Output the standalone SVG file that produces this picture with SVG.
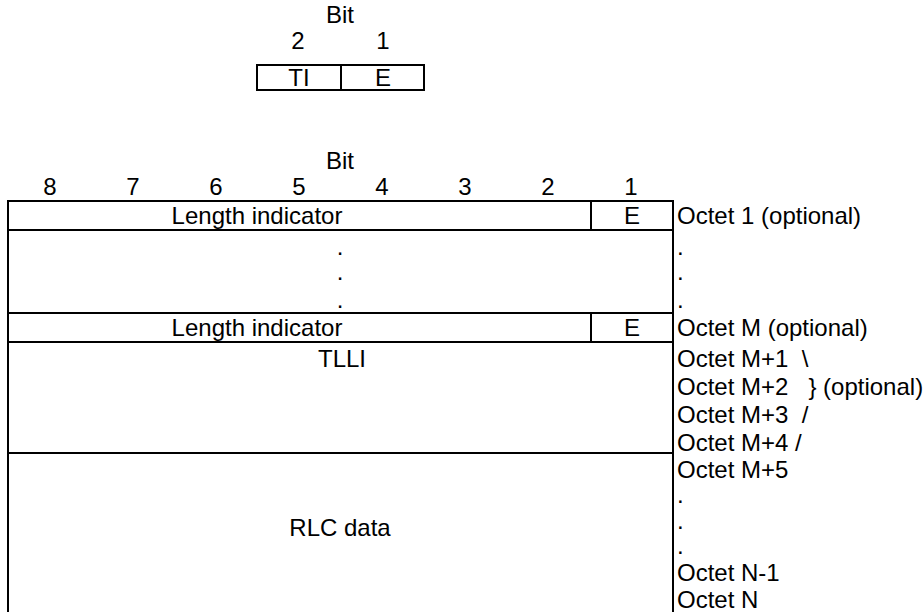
<svg xmlns="http://www.w3.org/2000/svg" width="924" height="612" viewBox="0 0 924 612">
<style>
text{font-family:"Liberation Sans",Arial,sans-serif;font-size:24px;fill:#000}
.c{text-anchor:middle}
.b{fill:none;stroke:#000;stroke-width:2}
</style>
<rect x="0" y="0" width="924" height="612" fill="#fff"/>
<g id="small-format">
<text class="c" x="340" y="23">Bit</text>
<text class="c" x="298" y="49">2</text>
<text class="c" x="383" y="49">1</text>
<rect class="b" x="257" y="65" width="167" height="25"/>
<line class="b" x1="341" y1="65" x2="341" y2="90"/>
<text class="c" x="299" y="86">TI</text>
<text class="c" x="383" y="86">E</text>
</g>
<g id="header">
<text class="c" x="340" y="169">Bit</text>
<text class="c" x="50" y="195">8</text>
<text class="c" x="133" y="195">7</text>
<text class="c" x="216" y="195">6</text>
<text class="c" x="299" y="195">5</text>
<text class="c" x="382" y="195">4</text>
<text class="c" x="465" y="195">3</text>
<text class="c" x="548" y="195">2</text>
<text class="c" x="631" y="195">1</text>
</g>
<g id="table">
<path class="b" d="M8,613 V201 H673 V613"/>
<line class="b" x1="8" y1="230" x2="673" y2="230"/>
<line class="b" x1="8" y1="313" x2="673" y2="313"/>
<line class="b" x1="8" y1="342" x2="673" y2="342"/>
<line class="b" x1="8" y1="453" x2="673" y2="453"/>
<line class="b" x1="591" y1="201" x2="591" y2="230"/>
<line class="b" x1="591" y1="313" x2="591" y2="342"/>
</g>
<g id="row-li1">
<text class="c" x="257" y="224">Length indicator</text>
<text class="c" x="632" y="224">E</text>
</g>
<g id="row-dots">
<text class="c" x="340" y="255">.</text>
<text class="c" x="340" y="280">.</text>
<text class="c" x="340" y="308">.</text>
</g>
<g id="row-liM">
<text class="c" x="257" y="336">Length indicator</text>
<text class="c" x="632" y="336">E</text>
</g>
<g id="row-tlli">
<text class="c" x="342" y="367">TLLI</text>
</g>
<g id="row-rlc">
<text class="c" x="340" y="536">RLC data</text>
</g>
<g id="octets">
<text x="677" y="224">Octet 1 (optional)</text>
<text x="677" y="255">.</text>
<text x="677" y="280">.</text>
<text x="677" y="308">.</text>
<text x="677" y="336">Octet M (optional)</text>
<text x="677" y="367" xml:space="preserve">Octet M+1  \</text>
<text x="677" y="395" xml:space="preserve">Octet M+2   } (optional)</text>
<text x="677" y="423" xml:space="preserve">Octet M+3  /</text>
<text x="677" y="451" xml:space="preserve">Octet M+4 /</text>
<text x="677" y="478">Octet M+5</text>
<text x="677" y="503">.</text>
<text x="677" y="529">.</text>
<text x="677" y="554">.</text>
<text x="677" y="581">Octet N-1</text>
<text x="677" y="608">Octet N</text>
</g>
</svg>
